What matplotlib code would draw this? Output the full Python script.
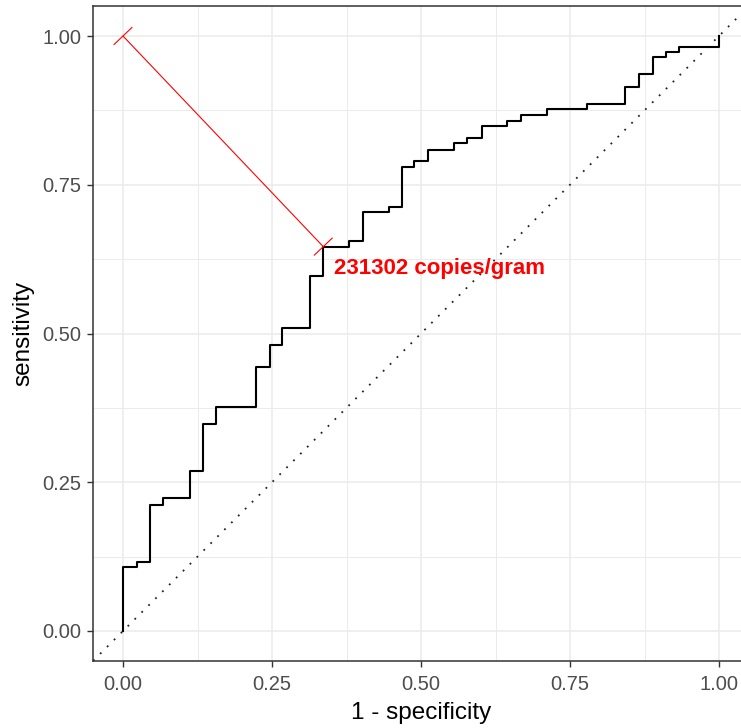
import numpy as np
import matplotlib.pyplot as plt

plt.rcParams['font.family'] = ['Liberation Sans', 'DejaVu Sans']

# ROC curve corners (1 - specificity, sensitivity), step drawn "post"
fpr = [0, 0, 0.024, 0.046, 0.067, 0.113, 0.134, 0.156, 0.223, 0.247,
       0.267, 0.313, 0.336, 0.379, 0.402, 0.446, 0.468, 0.489, 0.511, 0.555,
       0.578, 0.602, 0.645, 0.667, 0.711, 0.778, 0.843, 0.866, 0.889, 0.911,
       0.933, 1.0]
sens = [0, 0.107, 0.116, 0.212, 0.224, 0.269, 0.348, 0.377, 0.443, 0.481,
        0.510, 0.597, 0.646, 0.655, 0.704, 0.713, 0.779, 0.790, 0.808, 0.820,
        0.829, 0.848, 0.857, 0.867, 0.878, 0.886, 0.915, 0.936, 0.964, 0.973,
        0.981, 1.0]

# best threshold point and label
best_fpr = 0.336
best_sens = 0.646
best_label = "231302 copies/gram"

ticks = [0.00, 0.25, 0.50, 0.75, 1.00]
tick_labels = ["0.00", "0.25", "0.50", "0.75", "1.00"]
minor_ticks = [0.125, 0.375, 0.625, 0.875]

fig = plt.figure(figsize=(7.41, 7.28), dpi=100)
ax = fig.add_axes([93.2 / 741, (728 - 660.75) / 728, 655.6 / 741, 654.5 / 728])

ax.set_xlim(-0.05, 1.05)
ax.set_ylim(-0.05, 1.05)

# grid (theme_bw look)
ax.set_xticks(ticks)
ax.set_yticks(ticks)
ax.set_xticks(minor_ticks, minor=True)
ax.set_yticks(minor_ticks, minor=True)
ax.set_xticklabels(tick_labels)
ax.set_yticklabels(tick_labels)
ax.grid(True, which="major", color="#EBEBEB", linewidth=1.1)
ax.grid(True, which="minor", color="#EBEBEB", linewidth=0.7)
ax.set_axisbelow(True)
ax.tick_params(which="minor", length=0)
ax.tick_params(which="major", length=4.3, width=1.0, color="#333333",
               labelcolor="#4D4D4D", labelsize=14.5, pad=4)
ax.tick_params(axis="x", pad=6)
for sp in ax.spines.values():
    sp.set_color("#333333")
    sp.set_linewidth(1.1)

# chance diagonal
ax.axline((0, 0), (1, 1), color="#222222", linewidth=1.3,
          linestyle=(0, (1, 4.4)))

# ROC step curve
ax.step(fpr, sens, where="post", color="black", linewidth=1.5)

# segment from perfect classifier to best point
ax.annotate("", xy=(best_fpr, best_sens), xytext=(0, 1),
            arrowprops=dict(arrowstyle="|-|,widthA=0.9,widthB=0.9",
                            color="red", linewidth=0.8,
                            shrinkA=0, shrinkB=0))
ax.annotate(best_label, xy=(best_fpr, best_sens), xytext=(8, -15.5),
            textcoords="offset points", ha="left", va="center",
            color="red", fontweight="bold", fontsize=16)

ax.set_xlabel("1 - specificity", fontsize=17.5, color="black", labelpad=6)
ax.set_ylabel("sensitivity", fontsize=17.5, color="black", labelpad=6)

fig.savefig("out.png", dpi=100)
